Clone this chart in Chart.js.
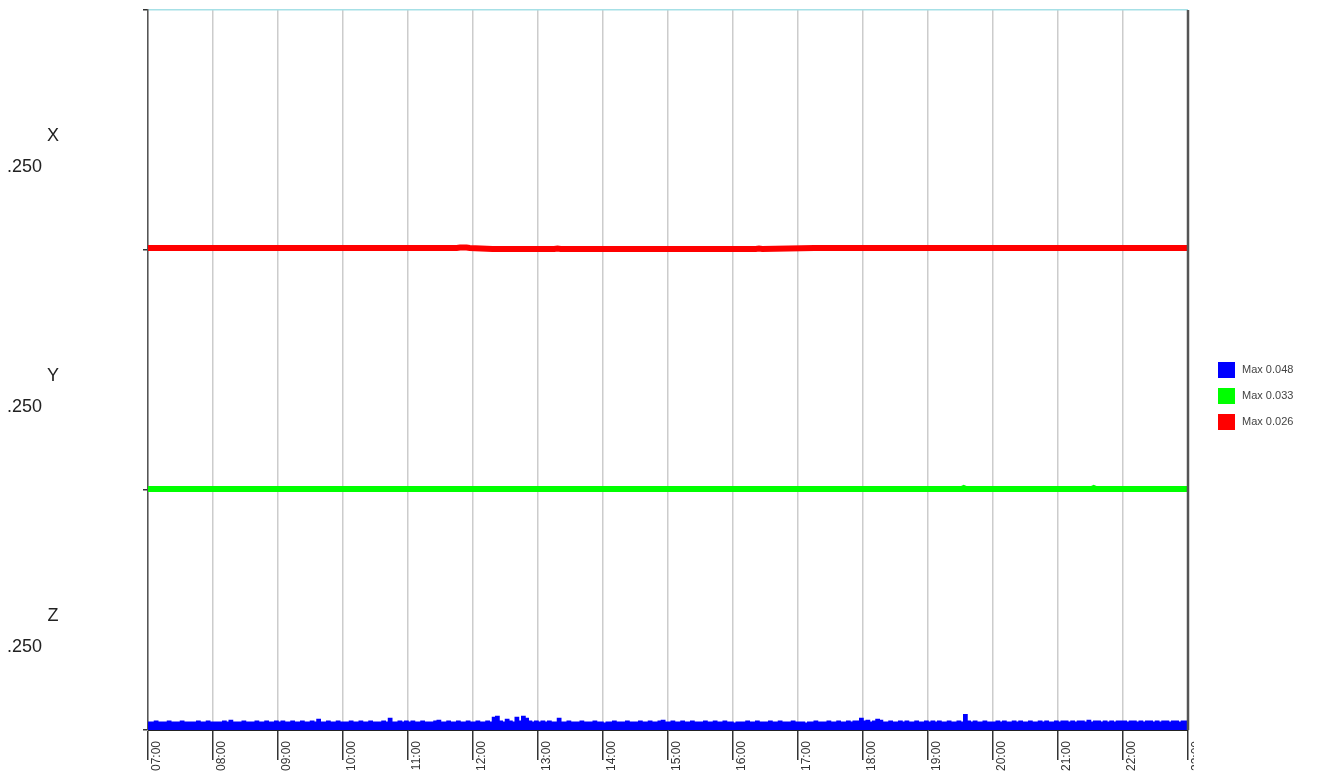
<!DOCTYPE html>
<html>
<head>
<meta charset="utf-8">
<script src="https://cdn.jsdelivr.net/npm/chart.js@4.4.1/dist/chart.umd.min.js"></script>
<style>
  html, body { margin: 0; padding: 0; background: #ffffff; }
  #wrap { width: 1326px; height: 780px; position: relative; }
</style>
</head>
<body>
<div id="wrap"><canvas id="chart" width="1326" height="780"></canvas></div>
<script>
// Time axis (hours of the day)
const startHour = 7;
const endHour = 23;
const hourLabels = ['07:00','08:00','09:00','10:00','11:00','12:00','13:00','14:00',
                    '15:00','16:00','17:00','18:00','19:00','20:00','21:00','22:00','23:00'];

// Channels, stacked top to bottom, each band spans 0.250
const channelNames = ['X', 'Y', 'Z'];
const channelScaleText = ['.250', '.250', '.250'];
const bandRange = 0.25;
const channelColors = ['#ff0000', '#00ff00', '#0000ff'];

// Legend (bottom channel first)
const legendLabels = ['Max 0.048', 'Max 0.033', 'Max 0.026'];
const legendColors = ['#0000ff', '#00ff00', '#ff0000'];

// X channel: breakpoints (hour) and level
const xTimes  = [7, 11.75, 11.8, 11.9, 11.95, 12.3, 13.25, 13.3, 13.35, 16.35, 16.4, 16.45, 17.25, 23];
const xValues = [0.002, 0.002, 0.0025, 0.0025, 0.002, 0.001, 0.001, 0.0015, 0.001, 0.001, 0.0015, 0.001, 0.002, 0.002];

// Y channel: breakpoints (hour) and level
const yTimes  = [7, 19.52, 19.55, 19.58, 21.52, 21.55, 21.58, 23];
const yValues = [0.001, 0.001, 0.002, 0.001, 0.001, 0.002, 0.001, 0.001];

// Z channel: one reading every 0.05 h from 07:00 to 23:00 (thousandths)
const zStepHours = 0.05;
const zValuesMilli = [
  8,8,9,8,8,8,9,8,8,8,9,8,8,8,8,9,8,8,9,8,
  8,8,8,9,8,10,8,8,8,9,8,8,8,9,8,8,9,8,8,9,
  8,9,8,8,9,8,8,9,8,8,9,8,11,8,8,9,8,8,9,8,
  8,8,9,8,8,9,8,8,9,8,8,8,9,8,12,8,8,9,8,9,
  8,9,8,8,9,8,8,8,9,10,8,8,9,8,8,9,8,8,9,8,
  8,9,8,8,9,8,13,14,9,8,11,9,8,13,9,14,12,9,8,9,
  8,9,8,9,8,8,12,8,8,9,8,8,8,9,8,8,8,9,8,8,
  7,8,8,9,8,8,8,9,8,8,8,9,8,8,9,8,8,9,10,8,
  8,9,8,8,9,8,8,9,8,8,8,9,8,8,9,8,8,9,8,8,
  7,8,8,8,9,8,8,9,8,8,8,9,8,8,9,8,8,8,9,8,
  8,8,7,8,8,9,8,8,8,9,8,8,9,8,8,9,8,9,9,12,
  9,10,8,9,11,10,8,8,9,8,8,9,8,9,8,8,9,8,8,9,
  8,9,8,9,8,8,9,8,8,9,8,16,9,8,9,8,8,9,8,8,
  8,9,8,9,8,8,9,8,9,8,8,9,8,8,9,8,9,8,8,9,
  8,9,9,8,9,8,9,9,8,10,8,9,9,8,9,8,9,8,9,9,
  9,8,9,9,8,9,8,9,9,8,9,8,9,9,8,9,9,8,9,9,
  9
];

// Each channel sits on its own baseline inside the shared value axis
const offsets = [2 * bandRange, 1 * bandRange, 0];

const xData = xTimes.map((t, i) => ({ x: t, y: offsets[0] + xValues[i] }));
const yData = yTimes.map((t, i) => ({ x: t, y: offsets[1] + yValues[i] }));
const zData = zValuesMilli.map((v, i) => ({ x: startHour + i * zStepHours, y: offsets[2] + v / 1000 }));

const FONT = '"Liberation Sans", Arial, sans-serif';

const decorations = {
  id: 'decorations',
  afterDraw(chart) {
    const ctx = chart.ctx;
    const xs = chart.scales.x;
    const ys = chart.scales.y;
    const area = chart.chartArea;

    // right frame line
    ctx.save();
    ctx.strokeStyle = '#555555';
    ctx.lineWidth = 2.5;
    ctx.beginPath();
    ctx.moveTo(area.right, area.top);
    ctx.lineTo(area.right, area.bottom);
    ctx.stroke();
    ctx.restore();

    // channel names and scale text on the left
    ctx.save();
    ctx.fillStyle = '#222222';
    ctx.font = '18px ' + FONT;
    ctx.textBaseline = 'middle';
    channelNames.forEach((name, i) => {
      const mid = ys.getPixelForValue(offsets[i] + bandRange / 2);
      ctx.textAlign = 'center';
      ctx.fillText(name, 53, mid + 6);
      ctx.textAlign = 'left';
      ctx.fillText(channelScaleText[i], 7, mid + 37);
    });
    ctx.restore();

    // rotated hour labels under the axis
    ctx.save();
    ctx.beginPath();
    ctx.rect(0, area.bottom, area.right + 6, chart.height - area.bottom);
    ctx.clip();
    ctx.fillStyle = '#333333';
    ctx.font = '12px ' + FONT;
    ctx.textAlign = 'right';
    ctx.textBaseline = 'middle';
    hourLabels.forEach((lab, i) => {
      const px = xs.getPixelForValue(startHour + i);
      ctx.save();
      ctx.translate(px + 8.5, area.bottom + 11);
      ctx.rotate(-Math.PI / 2);
      ctx.fillText(lab, 0, 0);
      ctx.restore();
    });
    ctx.restore();

    // legend on the right
    ctx.save();
    ctx.font = '11px ' + FONT;
    ctx.textAlign = 'left';
    ctx.textBaseline = 'middle';
    legendLabels.forEach((lab, i) => {
      const cy = 370 + i * 26;
      ctx.fillStyle = legendColors[i];
      ctx.fillRect(1218, cy - 8, 17, 16);
      ctx.fillStyle = '#444444';
      ctx.fillText(lab, 1242, cy);
    });
    ctx.restore();
  }
};

new Chart(document.getElementById('chart'), {
  type: 'line',
  data: {
    datasets: [
      { label: channelNames[0], data: xData, borderColor: channelColors[0], borderWidth: 6,
        pointRadius: 0, fill: false, tension: 0 },
      { label: channelNames[1], data: yData, borderColor: channelColors[1], borderWidth: 6,
        pointRadius: 0, fill: false, tension: 0 },
      { label: channelNames[2], data: zData, borderColor: channelColors[2], borderWidth: 1.5,
        backgroundColor: channelColors[2], pointRadius: 0, fill: 'origin', stepped: true }
    ]
  },
  options: {
    responsive: false,
    animation: false,
    events: [],
    layout: { padding: { left: 0, top: 10, right: 138, bottom: 0 } },
    plugins: { legend: { display: false }, tooltip: { enabled: false } },
    scales: {
      x: {
        type: 'linear',
        min: startHour,
        max: endHour,
        ticks: { display: false, stepSize: 1 },
        grid: {
          color: '#cccccc',
          lineWidth: 1.5,
          tickColor: '#333333',
          tickLength: 30,
          drawTicks: true
        },
        border: { color: '#222222', width: 1 },
        afterFit(scale) { scale.height = 50; }
      },
      y: {
        type: 'linear',
        min: 0,
        max: 3 * bandRange,
        ticks: { display: false, stepSize: bandRange },
        grid: {
          color: (c) => (c.tick && c.tick.value === 3 * bandRange) ? '#a6e0e6' : 'rgba(0,0,0,0)',
          lineWidth: 1.5,
          tickColor: '#333333',
          tickLength: 5,
          drawTicks: true
        },
        border: { color: '#555555', width: 1.5 },
        afterFit(scale) { scale.width = 148; }
      }
    }
  },
  plugins: [decorations]
});
</script>
</body>
</html>
